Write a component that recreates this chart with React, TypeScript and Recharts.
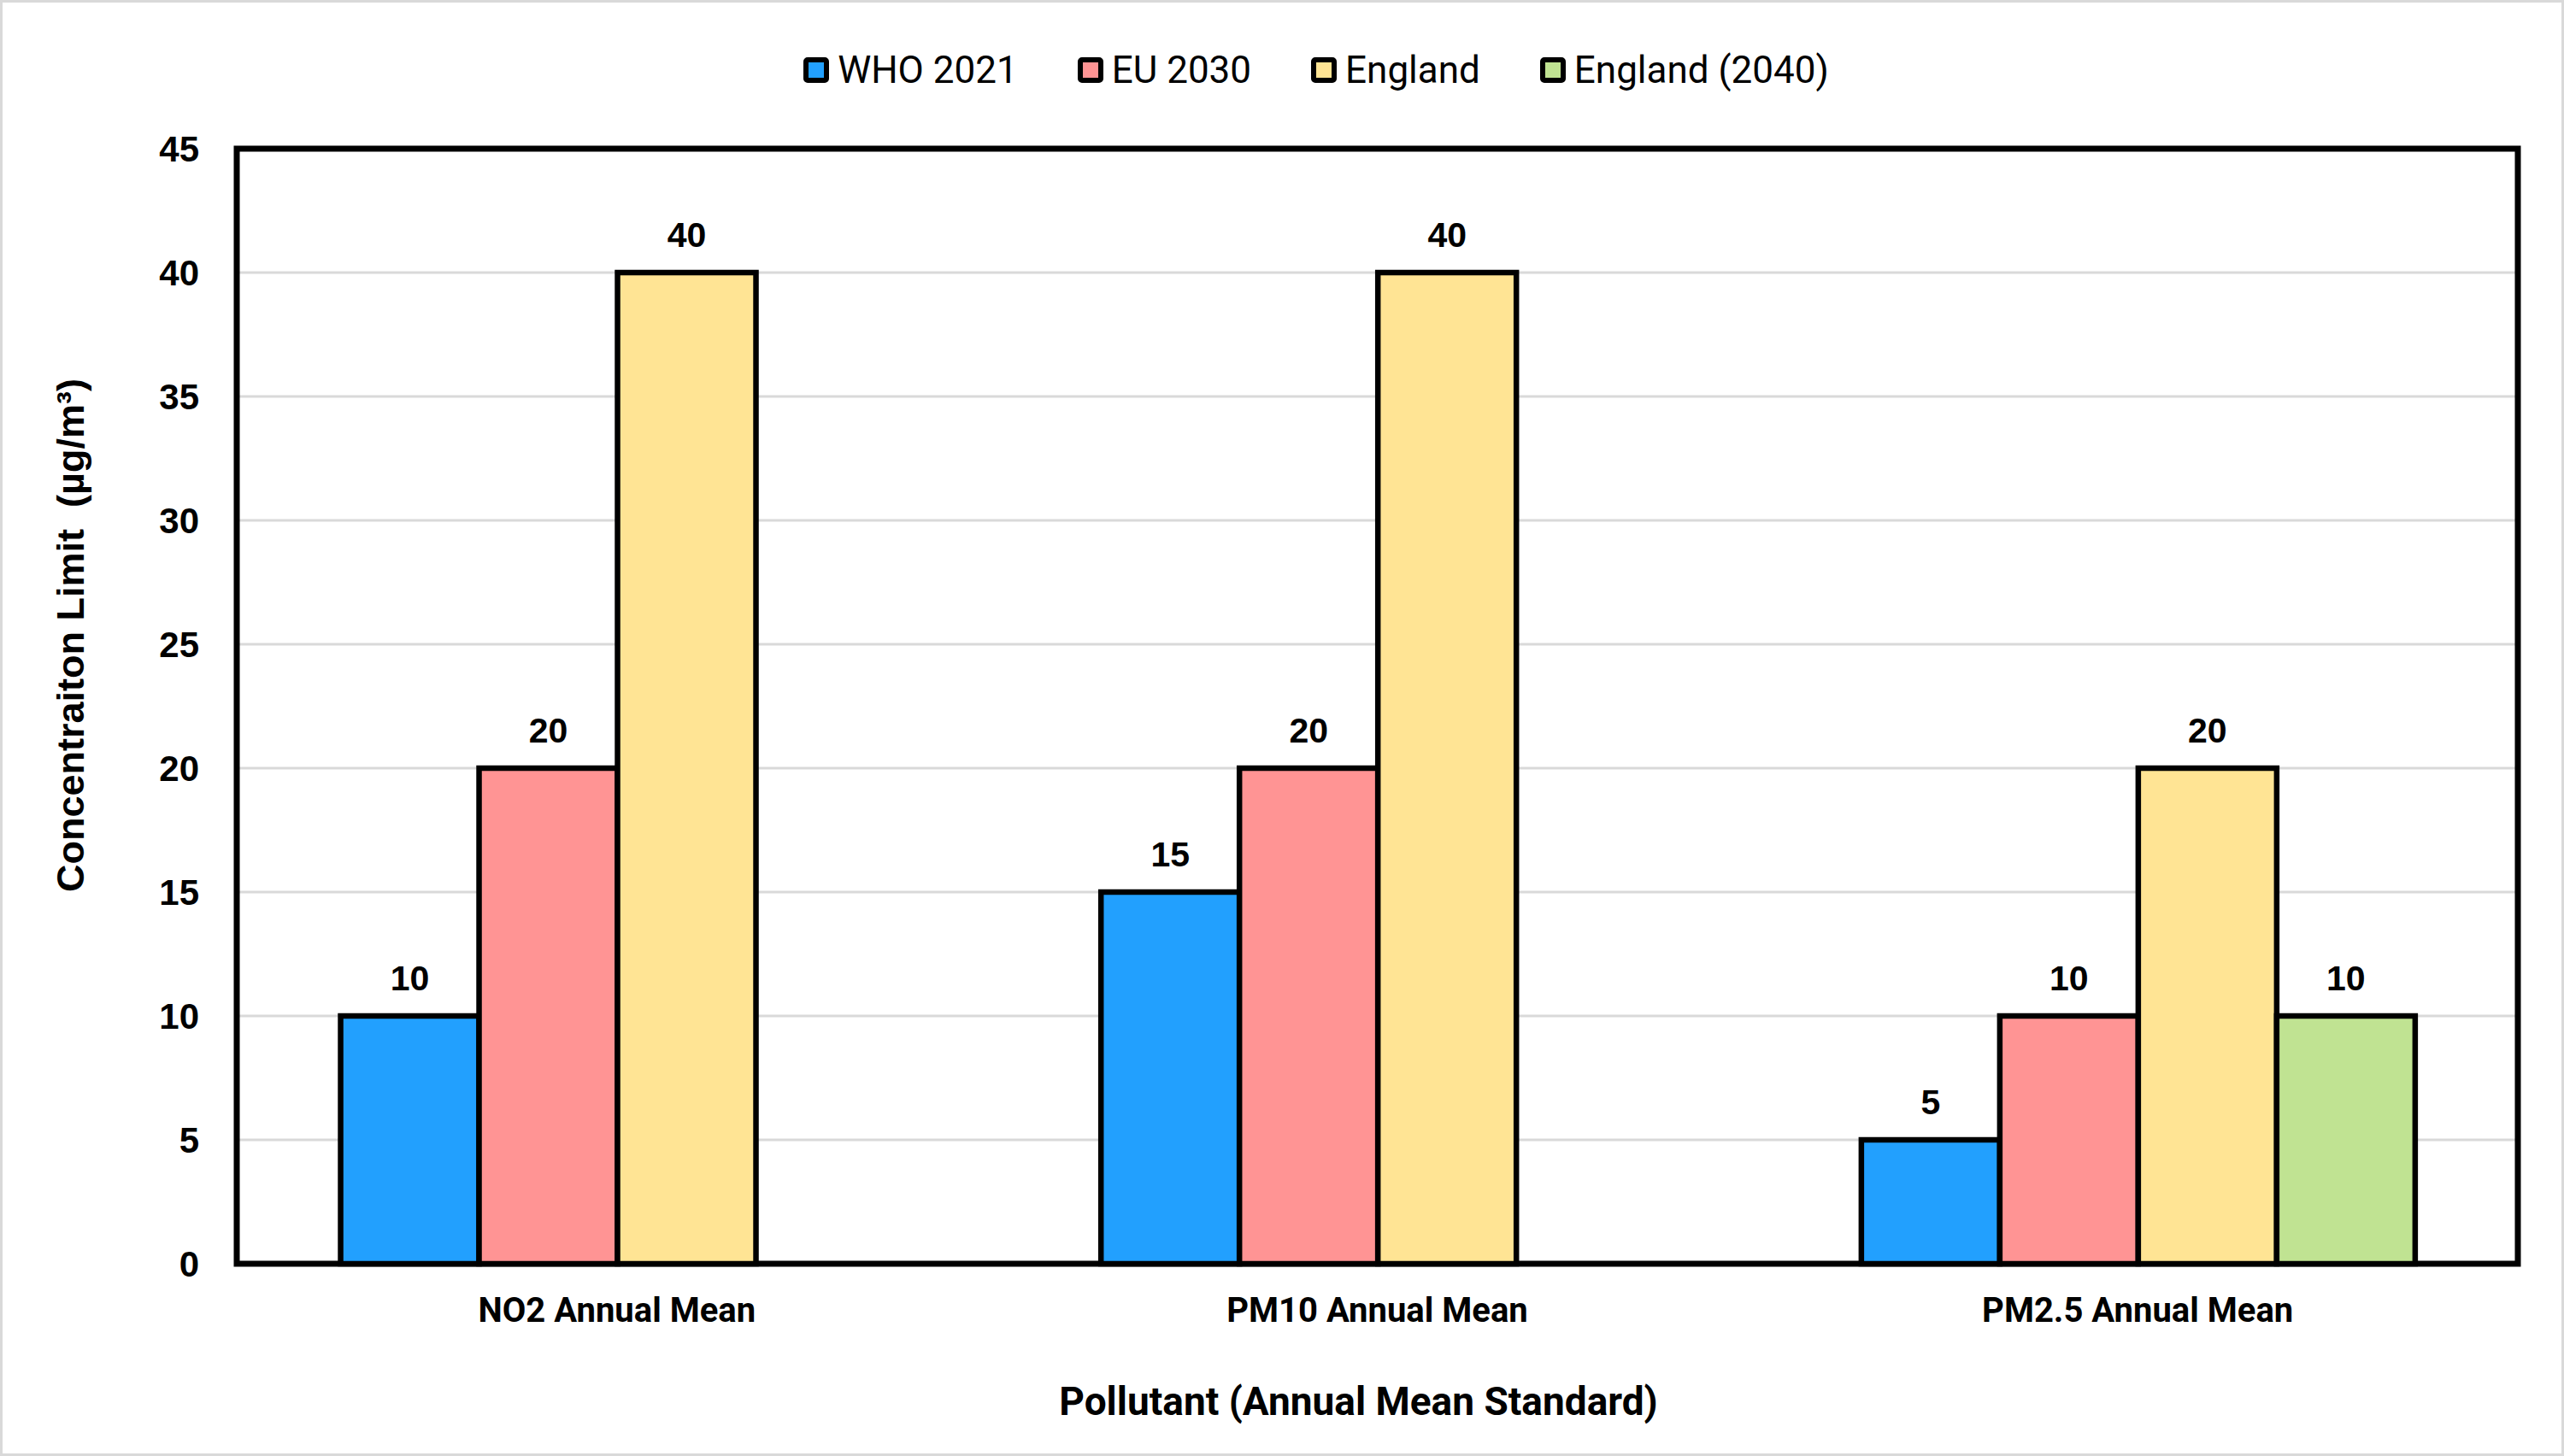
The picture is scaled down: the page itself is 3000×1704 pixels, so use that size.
import {
  Bar,
  BarChart,
  CartesianGrid,
  LabelList,
  Legend,
  ReferenceArea,
  XAxis,
  YAxis,
} from "recharts";

const pollutants = ["NO2 Annual Mean", "PM10 Annual Mean", "PM2.5 Annual Mean"];
const who2021 = [10, 15, 5];
const eu2030 = [20, 20, 10];
const england = [40, 40, 20];
const england2040 = [null, null, 10];
const yTicks = [0, 5, 10, 15, 20, 25, 30, 35, 40, 45];

const SERIES = [
  { key: "who", name: "WHO 2021", color: "#22a0fe", values: who2021 },
  { key: "eu", name: "EU 2030", color: "#ff9494", values: eu2030 },
  { key: "eng", name: "England", color: "#ffe494", values: england },
  { key: "eng2040", name: "England (2040)", color: "#c0e392", values: england2040 },
];

const data = pollutants.map((name, i) => {
  const row: Record<string, string | number | null> = { name };
  SERIES.forEach((s) => {
    row[s.key] = s.values[i];
  });
  return row;
});

const W = 3000;
const H = 1704;
const ARIAL = "'Liberation Sans', Arial, sans-serif";
const ROBOTO = "Roboto, 'Noto Sans', sans-serif";

function LegendRow() {
  return (
    <div
      style={{
        display: "flex",
        justifyContent: "center",
        alignItems: "center",
        height: 80,
        paddingLeft: 80,
        fontFamily: ROBOTO,
        fontSize: 44,
        color: "#000",
      }}
    >
      {SERIES.map((s, i) => (
        <div
          key={s.key}
          style={{ display: "flex", alignItems: "center", marginRight: i < SERIES.length - 1 ? 70 : 0 }}
        >
          <span
            style={{
              display: "inline-block",
              width: 30,
              height: 30,
              boxSizing: "border-box",
              border: "6px solid #000",
              borderRadius: 5,
              background: s.color,
              marginRight: 10,
            }}
          />
          <span>{s.name}</span>
        </div>
      ))}
    </div>
  );
}

function YTitle(props: any) {
  const vb = props.viewBox || {};
  const cx = 82;
  const cy = vb.y + vb.height / 2 - 83;
  return (
    <text
      x={cx}
      y={cy}
      transform={`rotate(-90, ${cx}, ${cy})`}
      textAnchor="middle"
      dominantBaseline="central"
      style={{ whiteSpace: "pre", fontFamily: ARIAL, fontWeight: 700, fontSize: 45, fill: "#000" }}
    >
      Concentraiton Limit  (µg/m³)
    </text>
  );
}

function XTitle(props: any) {
  const vb = props.viewBox || {};
  const cx = vb.x + vb.width / 2 - 22;
  return (
    <text
      x={cx}
      y={1640}
      textAnchor="middle"
      dominantBaseline="central"
      style={{ fontFamily: ROBOTO, fontWeight: 700, fontSize: 46, fill: "#000" }}
    >
      Pollutant (Annual Mean Standard)
    </text>
  );
}

export default function App() {
  return (
    <div style={{ position: "relative", width: W, height: H, background: "#fff" }}>
      <style>{`body{margin:0}`}</style>
      <BarChart
        width={W}
        height={H}
        data={data}
        margin={{ top: 174, right: 54, bottom: 0, left: 0 }}
        barCategoryGap="13.66%"
        barGap={0}
      >
        <CartesianGrid vertical={false} stroke="#d9d9d9" strokeWidth={3} />
        <XAxis
          dataKey="name"
          height={225}
          axisLine={false}
          tickLine={false}
          tickSize={0}
          tickMargin={40}
          interval={0}
          tick={{ fontFamily: ROBOTO, fontWeight: 700, fontSize: 40, fill: "#000" }}
          label={<XTitle />}
        />
        <YAxis
          width={277}
          domain={[0, 45]}
          ticks={yTicks}
          interval={0}
          axisLine={false}
          tickLine={false}
          tickSize={0}
          tickMargin={44}
          tick={{ fontFamily: ARIAL, fontWeight: 700, fontSize: 42, fill: "#000" }}
          label={<YTitle />}
        />
        <Legend
          layout="horizontal"
          verticalAlign="middle"
          align="center"
          wrapperStyle={{ top: 42, left: 0, width: W }}
          content={() => <LegendRow />}
        />
        {SERIES.map((s) => (
          <Bar
            key={s.key}
            dataKey={s.key}
            name={s.name}
            fill={s.color}
            stroke="#000"
            strokeWidth={6.5}
            isAnimationActive={false}
          >
            <LabelList
              dataKey={s.key}
              position="top"
              offset={30}
              style={{ fontFamily: ARIAL, fontWeight: 700, fontSize: 41, fill: "#000" }}
            />
          </Bar>
        ))}
        <ReferenceArea y1={0} y2={45} fill="none" stroke="#000" strokeWidth={7} ifOverflow="visible" />
      </BarChart>
      <div
        style={{
          position: "absolute",
          inset: 0,
          border: "3px solid #d9d9d9",
          pointerEvents: "none",
        }}
      />
    </div>
  );
}
